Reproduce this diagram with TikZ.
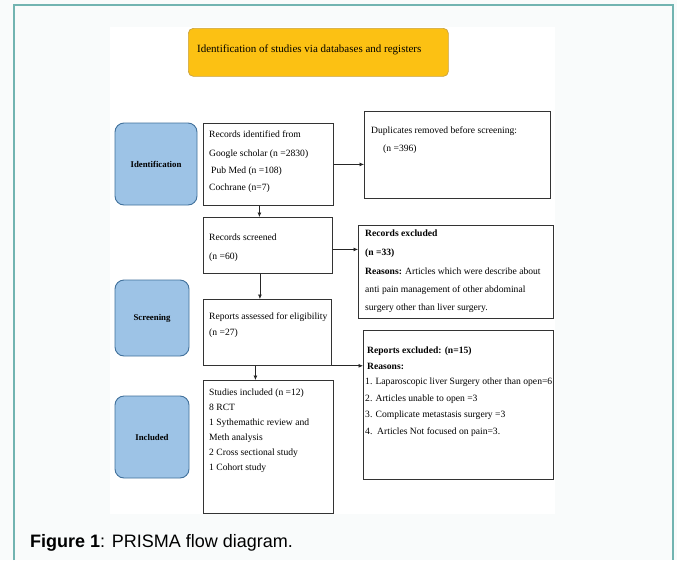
\documentclass[tikz,border=0pt]{standalone}
\usepackage{fontspec}
\setmainfont{Liberation Serif}
\newfontfamily\capfont{Liberation Sans}
\usetikzlibrary{arrows.meta,calc}
\definecolor{bgc}{HTML}{F9FBFB}
\definecolor{frame}{HTML}{72B4B1}
\definecolor{gold}{HTML}{FCC113}
\definecolor{golddark}{HTML}{C9A240}
\definecolor{stage}{HTML}{9DC3E6}
\definecolor{stagedark}{HTML}{41719C}
\tikzset{
  box/.style={draw=black!80, line width=0.8pt, fill=white, anchor=north west, inner sep=0pt},
  stagebox/.style={draw=stagedark, line width=0.9pt, fill=stage, rounded corners=9pt, inner sep=0pt, font=\fontsize{8.8}{10}\selectfont\bfseries},
  titlebox/.style={draw=golddark, line width=0.7pt, fill=gold, rounded corners=5pt, anchor=north west, inner sep=0pt},
  txt/.style={anchor=base west, inner sep=0pt, font=\fontsize{9.6}{10}\selectfont},
  arr/.style={draw=black!85, line width=0.7pt, -{Latex[length=4.5pt,width=4pt]}},
}
\begin{document}
\begin{tikzpicture}[x=1pt,y=-1pt]
\useasboundingbox (0,0) rectangle (677,560);
\fill[bgc] (0,0) rectangle (677,560);
\draw[frame, line width=1.6pt] (14,560) -- (14,5) -- (673,5) -- (673,560);
\fill[white] (110,27) rectangle (555,514);

% title
\node[titlebox, minimum width=260pt, minimum height=48pt] (title) at (188,28) {};
\node[txt, font=\fontsize{11}{12}\selectfont] (title-t) at (197,52) {Identification of studies via databases and registers};

% stage boxes
\node[stagebox, minimum width=82pt, minimum height=82pt] (sid) at (156,164) {Identification};
\node[stagebox, minimum width=74pt, minimum height=76pt] (sscr) at (152,318) {Screening};
\node[stagebox, minimum width=74pt, minimum height=82pt] (sinc) at (152,437) {Included};

% main boxes
\node[box, minimum width=130pt, minimum height=82pt] (rid) at (203,123) {};
\node[box, minimum width=186pt, minimum height=87pt] (dup) at (364,111) {};
\node[box, minimum width=129pt, minimum height=56pt] (scr) at (203,217) {};
\node[box, minimum width=195pt, minimum height=93pt] (exc) at (358,225) {};
\node[box, minimum width=128pt, minimum height=66pt] (rep) at (203,299) {};
\node[box, minimum width=190pt, minimum height=149pt] (rex) at (363,330) {};
\node[box, minimum width=130pt, minimum height=133pt] (inc) at (203,380) {};

% texts: records identified
\node[txt] (rid-1) at (209,137) {Records identified from};
\node[txt] (rid-2) at (209,156) {Google scholar (n =2830)};
\node[txt] (rid-3) at (211,173) {Pub Med (n =108)};
\node[txt] (rid-4) at (209,190) {Cochrane (n=7)};
% duplicates
\node[txt] (dup-1) at (371,133) {Duplicates removed before screening:};
\node[txt] (dup-2) at (383,151) {(n =396)};
% screened
\node[txt] (scr-1) at (209,240) {Records screened};
\node[txt] (scr-2) at (209,259) {(n =60)};
% records excluded
\node[txt] (exc-1) at (365,236) {\bfseries Records excluded};
\node[txt] (exc-2) at (365,255) {\bfseries (n =33)};
\node[txt] (exc-3) at (365,274) {\textbf{Reasons:} Articles which were describe about};
\node[txt] (exc-4) at (365,292) {anti pain management of other abdominal};
\node[txt] (exc-5) at (365,310) {surgery other than liver surgery.};
% reports assessed
\node[txt] (rep-1) at (209,319) {Reports assessed for eligibility};
\node[txt] (rep-2) at (209,335) {(n =27)};
% reports excluded
\node[txt] (rex-1) at (367,353) {\bfseries Reports excluded: (n=15)};
\node[txt] (rex-2) at (367,369) {\bfseries Reasons:};
\node[txt] (rex-3) at (365,384) {1. Laparoscopic liver Surgery other than open=6};
\node[txt] (rex-4) at (365,401) {2. Articles unable to open =3};
\node[txt] (rex-5) at (365,417) {3. Complicate metastasis surgery =3};
\node[txt] (rex-6) at (365,434) {4.\ \ Articles Not focused on pain=3.};
% studies included
\node[txt] (inc-1) at (209,395) {Studies included (n =12)};
\node[txt] (inc-2) at (209,410) {8 RCT};
\node[txt] (inc-3) at (209,425) {1 Sythemathic review and};
\node[txt] (inc-4) at (209,440) {Meth analysis};
\node[txt] (inc-5) at (209,455) {2 Cross sectional study};
\node[txt] (inc-6) at (209,470) {1 Cohort study};

% connectors
\draw[arr] (rid.east) -- (rid.east -| dup.west);
\draw[arr] ([xshift=-9pt]rid.south) -- ([xshift=-9pt]rid.south |- scr.north);
\draw[arr] ([yshift=-4pt]scr.east) -- ([yshift=-4pt]scr.east -| exc.west);
\draw[arr] ([xshift=-8pt]scr.south) -- ([xshift=-8pt]scr.south |- rep.north);
\draw[arr] ([xshift=-12pt]rep.south) -- ([xshift=-12pt]rep.south |- inc.north);
\draw[arr] (rep.south east) -- (rep.south east -| rex.west);

% caption
\node[anchor=base west, inner sep=0pt, font=\capfont\fontsize{18}{20}\selectfont] (cap) at (30,547) {\textbf{Figure 1}: PRISMA flow diagram.};
\end{tikzpicture}
\end{document}
